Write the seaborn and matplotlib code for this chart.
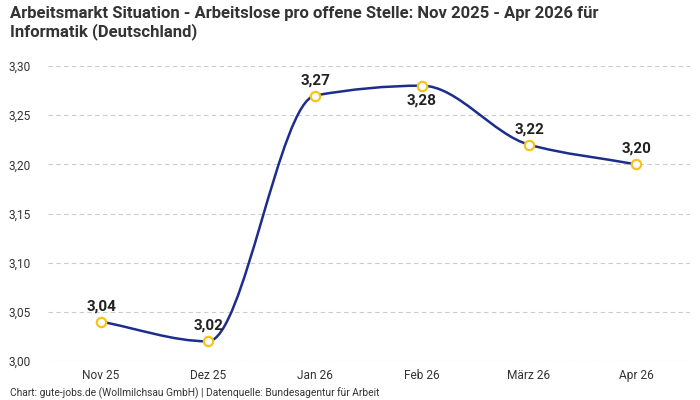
import numpy as np
import pandas as pd
import seaborn as sns
import matplotlib.pyplot as plt
from matplotlib.path import Path
from matplotlib.patches import PathPatch
from matplotlib.ticker import FuncFormatter

months = ["Nov 25", "Dez 25", "Jan 26", "Feb 26", "März 26", "Apr 26"]
ratio = [3.04, 3.02, 3.27, 3.28, 3.22, 3.20]
label_below = [False, False, False, True, False, False]

LINE = "#1c2d8c"
MARK = "#f6c21c"

sns.set_theme(style="white")
plt.rcParams["font.family"] = ["Roboto", "DejaVu Sans"]

df = pd.DataFrame({"pos": np.arange(len(months)), "ratio": ratio})

fig = plt.figure(figsize=(7, 4), dpi=100)
ax = fig.add_axes([0.068, 0.0975, 0.917, 0.7375])


def monotone_tangents(x, y):
    # Fritsch-Carlson slopes, like a "monotone" cubic line
    x = np.asarray(x, float)
    y = np.asarray(y, float)
    h = np.diff(x)
    d = np.diff(y) / h
    m = np.zeros_like(y)
    m[0], m[-1] = d[0], d[-1]
    for i in range(1, len(y) - 1):
        if d[i - 1] * d[i] <= 0:
            m[i] = 0.0
        else:
            m[i] = 3 * (h[i - 1] + h[i]) / ((2 * h[i] + h[i - 1]) / d[i - 1] + (h[i] + 2 * h[i - 1]) / d[i])
    return m


m = monotone_tangents(df["pos"], df["ratio"])
verts = [(df["pos"][0], df["ratio"][0])]
codes = [Path.MOVETO]
for i in range(len(df) - 1):
    x0, y0 = df["pos"][i], df["ratio"][i]
    x1, y1 = df["pos"][i + 1], df["ratio"][i + 1]
    h = (x1 - x0) / 3
    verts += [(x0 + h, y0 + m[i] * h), (x1 - h, y1 - m[i + 1] * h), (x1, y1)]
    codes += [Path.CURVE4] * 3
ax.add_patch(PathPatch(Path(verts, codes), facecolor="none", edgecolor=LINE, lw=1.8, zorder=3))

sns.scatterplot(data=df, x="pos", y="ratio", ax=ax, s=45, color="white",
                edgecolor=MARK, linewidth=1.6, zorder=4, legend=False)

for x, y, below in zip(df["pos"], df["ratio"], label_below):
    off = -11 if below else 11
    ax.annotate(f"{y:.2f}".replace(".", ","), (x, y), xytext=(0, off),
                textcoords="offset points", ha="center", va="center",
                fontsize=11, fontweight="semibold", color="#222222")

ax.set_xlim(-0.5, len(months) - 0.5)
ax.set_ylim(3.0, 3.30)
ax.set_xticks(df["pos"])
ax.set_xticklabels(months)
ax.set_yticks(np.arange(3.0, 3.301, 0.05))
ax.yaxis.set_major_formatter(FuncFormatter(lambda v, p: f"{v:.2f}".replace(".", ",")))
ax.tick_params(axis="both", labelsize=8.6, colors="#333333", length=0)
ax.tick_params(axis="y", pad=12)
ax.tick_params(axis="x", pad=6)
ax.grid(axis="y", color="#cccccc", linestyle=(0, (4, 3)), lw=0.8)
ax.set_axisbelow(True)
ax.set_xlabel("")
ax.set_ylabel("")
sns.despine(ax=ax, left=True, bottom=True)

fig.text(0.014, 0.985, "Arbeitsmarkt Situation - Arbeitslose pro offene Stelle: Nov 2025 - Apr 2026 für\nInformatik (Deutschland)",
         ha="left", va="top", fontsize=12, fontweight="bold", color="#333333", linespacing=1.15)
fig.text(0.014, 0.0175, "Chart: gute-jobs.de (Wollmilchsau GmbH) | Datenquelle: Bundesagentur für Arbeit",
         ha="left", va="center", fontsize=7.4, color="#333333")

fig.savefig("out.png", dpi=100)
